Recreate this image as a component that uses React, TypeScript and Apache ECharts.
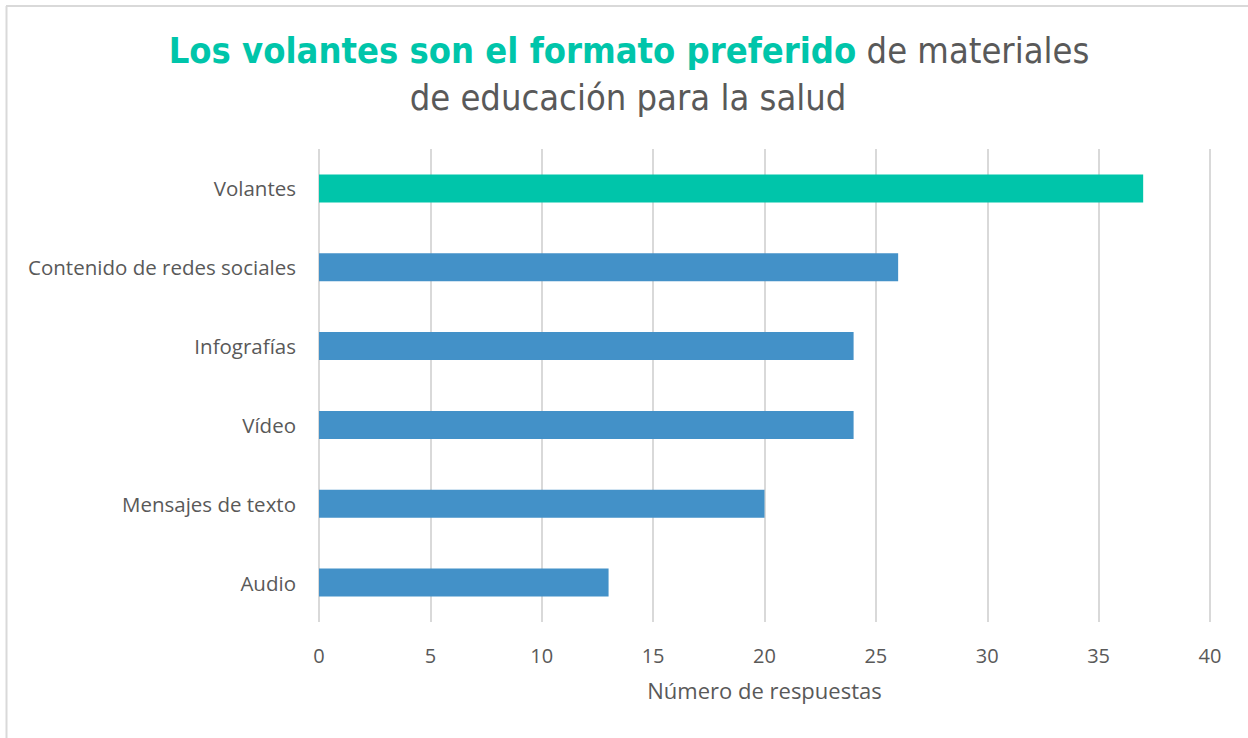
import React, { useEffect, useRef } from "react";
import * as echarts from "echarts";

const categories = [
  "Audio",
  "Mensajes de texto",
  "Vídeo",
  "Infografías",
  "Contenido de redes sociales",
  "Volantes",
];
const values = [13, 20, 24, 24, 26, 37];
const highlightCategory = "Volantes";
const xTicks = { min: 0, max: 40, interval: 5 };
const titleBold = "Los volantes son el formato preferido";
const titleRest1 = "de materiales";
const titleRest2 = "de educación para la salud";
const xAxisName = "Número de respuestas";

const TEAL = "#00C5AA";
const BLUE = "#4391C8";
const GRAY = "#595959";
const FONT = "Open Sans";
const TITLE_FONT = "DejaVu Sans Condensed";

export default function App() {
  const ref = useRef<HTMLDivElement>(null);
  useEffect(() => {
    if (!ref.current) return;
    const chart = echarts.init(ref.current, null, { renderer: "svg" });
    chart.setOption({
      animation: false,
      backgroundColor: "#fff",
      graphic: [
        {
          type: "line",
          shape: { x1: 6.5, y1: 6, x2: 6.5, y2: 738 },
          style: { stroke: "#d9d9d9", lineWidth: 2 },
        },
        {
          type: "line",
          shape: { x1: 6, y1: 6, x2: 1248, y2: 6 },
          style: { stroke: "#d9d9d9", lineWidth: 2 },
        },
        {
          type: "text",
          x: 629,
          y: 50,
          style: {
            text: `{b|${titleBold}}{n|\u00a0${titleRest1}}`,
            textAlign: "center",
            textVerticalAlign: "middle",
            rich: {
              b: {
                fontFamily: TITLE_FONT,
                fontWeight: "bold",
                fontSize: 36,
                fill: TEAL,
              },
              n: {
                fontFamily: TITLE_FONT,
                fontWeight: "normal",
                fontSize: 36,
                fill: GRAY,
              },
            },
          },
        },
        {
          type: "text",
          x: 628,
          y: 97,
          style: {
            text: titleRest2,
            textAlign: "center",
            textVerticalAlign: "middle",
            fontFamily: TITLE_FONT,
            fontWeight: "normal",
            fontSize: 36,
            fill: GRAY,
          },
        },
      ],
      grid: { left: 319, right: 38, top: 149, bottom: 116 },
      xAxis: {
        type: "value",
        min: xTicks.min,
        max: xTicks.max,
        interval: xTicks.interval,
        name: xAxisName,
        nameLocation: "middle",
        nameGap: 57,
        nameTextStyle: { fontFamily: FONT, fontSize: 22, color: GRAY },
        axisLine: { show: false },
        axisTick: { show: false },
        axisLabel: { fontFamily: FONT, fontSize: 20, color: GRAY, margin: 23 },
        splitLine: { lineStyle: { color: "#d9d9d9", width: 2 } },
      },
      yAxis: {
        type: "category",
        data: categories,
        axisLine: { show: false },
        axisTick: { show: false },
        axisLabel: { fontFamily: FONT, fontSize: 20.5, color: GRAY, margin: 23 },
      },
      series: [
        {
          type: "bar",
          barWidth: 28,
          data: values.map((v, i) => ({
            value: v,
            itemStyle: { color: categories[i] === highlightCategory ? TEAL : BLUE },
          })),
        },
      ],
    });
    return () => chart.dispose();
  }, []);
  return (
    <div
      ref={ref}
      style={{ position: "fixed", left: 0, top: 0, width: 1248, height: 738 }}
    />
  );
}
